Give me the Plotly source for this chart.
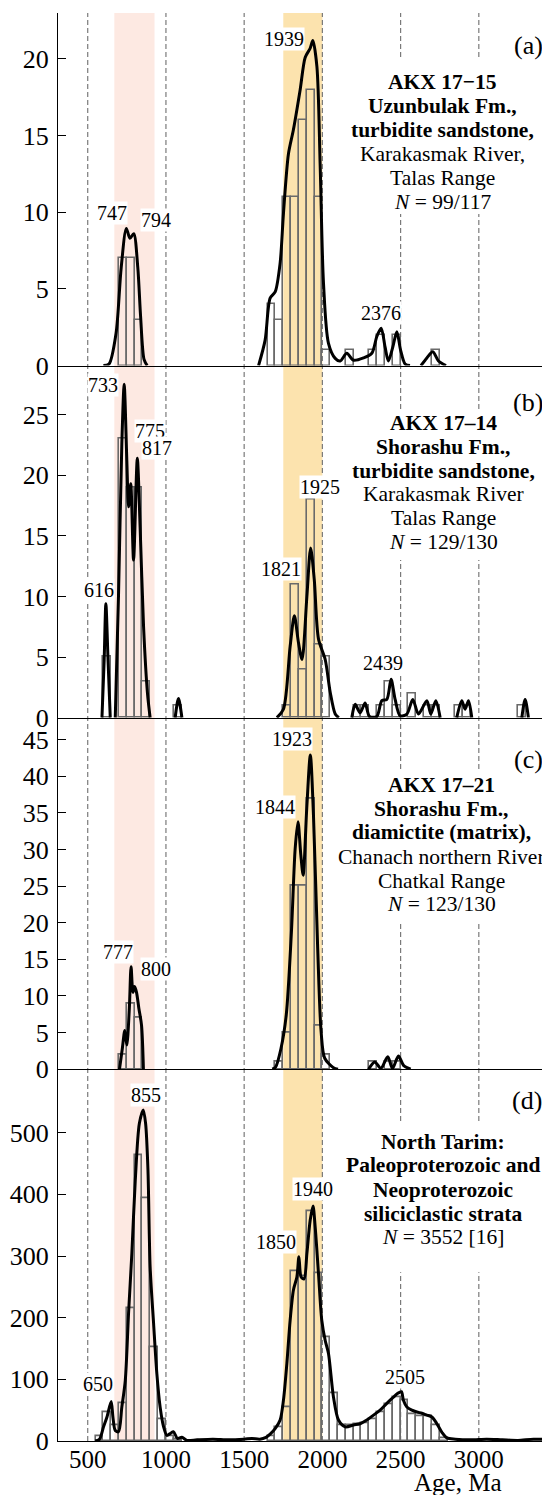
import plotly.graph_objects as go
from plotly.subplots import make_subplots

FONT = "Liberation Serif"
BIN = 50

# ---------------- DATA ----------------
# (a) AKX 17-15
a_bins = [700, 750, 800, 1650, 1700, 1750, 1800, 1850, 1900, 1950, 2000, 2150, 2300, 2350, 2450, 2700]
a_counts = [7, 7, 3, 4, 3, 11, 11, 16, 18, 11, 1, 1, 1, 2, 2, 1]
a_age = [600, 636, 681, 714, 747, 770, 794, 820, 838, 860, 880, None,
         1592, 1634, 1666, 1698, 1730, 1751, 1783, 1815, 1858, 1890, 1922, 1939, 1965, 1986, 2007, 2039,
         2082, 2114, 2156, 2199, 2263, 2316, 2348, 2376, 2401, 2422, 2450, 2476, 2501, 2529, 2560, None,
         2630, 2668, 2706, 2742, 2790]
a_pdf = [0, 0.1, 2.1, 6.4, 8.95, 8.3, 8.6, 6.4, 3.2, 0.4, 0, None,
         0, 1.66, 4.4, 4.8, 6.7, 9.9, 13.8, 15.4, 18.0, 20.1, 20.7, 21.2, 19.5, 13.0, 5.4, 1.45,
         0.47, 0.3, 0.8, 0.35, 0.5, 0.8, 1.9, 2.43, 1.2, 0.3, 1.2, 2.2, 0.96, 0.1, 0, None,
         0, 0.5, 0.9, 0.3, 0]
a_peaks = ["747", "794", "1939", "2376"]

# (b) AKX 17-14
b_bins = [600, 700, 750, 800, 850, 1050, 1750, 1800, 1850, 1900, 1950, 2000,
          2200, 2250, 2350, 2400, 2450, 2550, 2650, 2700, 2850, 2900, 3250]
b_counts = [5, 23, 19, 19, 3, 1, 1, 11, 4, 18, 6, 5,
            1, 1, 1, 3, 1, 2, 1, 1, 1, 1, 1]
b_age = [591, 605, 616, 630, 644, None,
         676, 697, 718, 733, 750, 761, 775, 793, 817, 835, 857, 882, 899, None,
         1059, 1080, 1102, None,
         1709, 1751, 1794, 1821, 1847, 1870, 1901, 1925, 1948, 1975, 2018, 2050, 2082, 2105, None,
         2188, 2210, 2241, 2273, 2301, 2348, 2380, 2412, 2439, 2465, 2497, 2540, 2578, 2614, 2668,
         2693, 2725, 2753, None,
         2859, 2891, 2912, 2934, 2955, None,
         3275, 3296, 3317]
b_pdf = [0, 4.7, 9.4, 4.7, 0, None,
         0, 10.2, 22.6, 27.5, 21.2, 17.4, 19.3, 13.0, 21.4, 15.7, 7.5, 2.0, 0, None,
         0, 1.57, 0, None,
         0, 0.7, 5.9, 8.4, 6.2, 4.8, 10.0, 14.0, 11.4, 6.5, 4.8, 2.1, 0.3, 0, None,
         0, 1.1, 0.4, 1.2, 0.1, 0.1, 1.4, 1.5, 3.16, 1.5, 0.15, 0.3, 1.5, 0.3, 1.4,
         0.3, 1.4, 0, None,
         0, 1.4, 0.7, 1.4, 0, None,
         0, 1.5, 0]
b_peaks = ["616", "733", "775", "817", "1821", "1925", "2439"]

# (c) AKX 17-21
c_bins = [700, 750, 800, 1700, 1750, 1800, 1850, 1900, 1950, 2000, 2300, 2400, 2450]
c_counts = [2, 9, 7, 1, 5, 25, 25, 37, 6, 2, 1, 1, 1]
c_age = [703, 721, 737, 750, 766, 777, 789, 800, 812, 827, 844, 856, None,
         1680, 1701, 1735, 1769, 1802, 1826, 1844, 1862, 1877, 1900, 1923, 1943, 1970, 1992, 2015, 2071, 2100, None,
         2295, 2335, 2374, 2418, 2448, 2486, 2520, 2564]
c_pdf = [0, 2.8, 5.3, 3.3, 8.3, 14.0, 10.5, 11.3, 10.5, 8.3, 6.0, 0, None,
         0, 0.3, 2.8, 7.4, 18.7, 30.1, 33.8, 29.3, 26.5, 35.6, 42.9, 34.7, 16.5, 5.1, 1.5, 0.2, 0, None,
         0, 1.0, 0.1, 1.7, 0.1, 1.8, 0.5, 0]
c_peaks = ["777", "800", "1844", "1923"]

# (d) North Tarim
d_bins = [550, 600, 650, 700, 750, 800, 850, 900, 950, 1000, 1050, 1650, 1700, 1750, 1800, 1850, 1900,
          1950, 2000, 2050, 2100, 2150, 2200, 2250, 2300, 2350, 2400, 2450, 2500, 2550, 2600, 2650,
          2700, 2750]
d_counts = [8, 47, 25, 61, 216, 464, 393, 152, 35, 8, 3, 8, 23, 55, 275, 268, 373,
            272, 169, 77, 25, 25, 27, 29, 35, 47, 60, 71, 66, 44, 41, 41,
            25, 5]
d_age = [548, 575, 601, 623, 650, 661, 676, 697, 718, 740, 761, 782, 804, 830, 855, 870, 885, 899,
         921, 942, 963, 985, 1006, 1027, 1048, 1074, 1102, 1134, 1200, 1300, 1400, 1500, 1550, 1600,
         1640, 1666, 1698, 1730, 1751, 1773, 1794, 1815, 1837, 1850, 1864, 1883, 1901, 1922, 1940,
         1954, 1975, 1996, 2018, 2039, 2071, 2103, 2146, 2199, 2241, 2284, 2327, 2369, 2412, 2454,
         2480, 2505, 2518, 2540, 2572, 2604, 2636, 2668, 2700, 2732, 2764, 2796, 2850, 2950, 3050,
         3150, 3250, 3350, 3455]
d_pdf = [0, 3, 23, 39, 64, 39, 17, 15, 55, 98, 207, 304, 423, 515, 537, 515, 440, 282,
         191, 109, 55, 23, 9, 12, 15, 4, 6, 1, 2, 3, 2, 3, 4, 3,
         6, 11, 20, 34, 66, 126, 196, 245, 266, 299, 266, 263, 304, 358, 381,
         347, 272, 196, 163, 142, 71, 34, 23, 26, 28, 34, 42, 50, 61, 71,
         77, 80, 66, 55, 50, 47, 45, 42, 39, 28, 14, 5, 3, 2, 3,
         2, 1, 3, 2]
d_peaks = ["650", "855", "1850", "1940", "2505"]

x_ticks = [500, 1000, 1500, 2000, 2500, 3000]
dashed_ages = [500, 1000, 1500, 2000, 2500, 3000]
band_pink = (670, 927)
band_yellow = (1750, 2000)

texts = {
    1: ["<b>AKX 17\u221215</b>", "<b>Uzunbulak Fm.,</b>", "<b>turbidite sandstone,</b>",
        "Karakasmak River,", "Talas Range", "<i>N</i> = 99/117"],
    2: ["<b>AKX 17\u201314</b>", "<b>Shorashu Fm.,</b>", "<b>turbidite sandstone,</b>",
        "Karakasmak River", "Talas Range", "<i>N</i> = 129/130"],
    3: ["<b>AKX 17\u201321</b>", "<b>Shorashu Fm.,</b>", "<b>diamictite (matrix),</b>",
        "Chanach northern River", "Chatkal Range", "<i>N</i> = 123/130"],
    4: ["<b>North Tarim:</b>", "<b>Paleoproterozoic and</b>", "<b>Neoproterozoic</b>",
        "<b>siliciclastic strata</b>", "<i>N</i> = 3552 [16]"],
}
panel_letters = ["(a)", "(b)", "(c)", "(d)"]

# ---------------- LAYOUT GEOMETRY ----------------
# the page body adds an 8 px offset; reference pixel coords are converted below
OFF = 8
W, H = 550 - OFF, 1495 - OFF
ML, MR, MT, MB = 58 - OFF, 0, 13 - OFF, 1495 - 1440.7
PH = H - MT - MB
PW = W - ML - MR


def px2x(px):
    return (px - OFF - ML) / PW


def px2y(py):
    return (H - MB - (py - OFF)) / PH


row_px = [352.5, 352.0, 351.5, 371.7]
yranges = [[0, 23.0], [0, 29.05], [0, 48.0], [0, 603]]
ytick_vals = [[0, 5, 10, 15, 20], [0, 5, 10, 15, 20, 25], list(range(0, 50, 5)),
              [0, 100, 200, 300, 400, 500]]

fig = make_subplots(rows=4, cols=1, shared_xaxes=True, vertical_spacing=0,
                    row_heights=row_px)

panels = [(a_bins, a_counts, a_age, a_pdf), (b_bins, b_counts, b_age, b_pdf),
          (c_bins, c_counts, c_age, c_pdf), (d_bins, d_counts, d_age, d_pdf)]

for i, (bins, counts, age, pdf) in enumerate(panels, start=1):
    fig.add_trace(go.Bar(x=[b + BIN / 2 for b in bins], y=counts, width=BIN,
                         marker=dict(color="rgba(0,0,0,0)",
                                     line=dict(color="#6a6a6a", width=1.6)),
                         showlegend=False, hoverinfo="skip"), row=i, col=1)
    fig.add_trace(go.Scatter(x=age, y=pdf, mode="lines",
                             line=dict(color="black", width=3, shape="spline", smoothing=0.8),
                             connectgaps=False, showlegend=False, hoverinfo="skip"),
                  row=i, col=1)

# bands and dashed lines
shapes = []
for (x0, x1), col in [(band_pink, "rgba(252,225,216,0.75)"), (band_yellow, "rgba(251,222,160,0.85)")]:
    shapes.append(dict(type="rect", xref="x4", yref="paper", x0=x0, x1=x1, y0=0, y1=1,
                       fillcolor=col, line=dict(width=0), layer="below"))
for a in dashed_ages:
    shapes.append(dict(type="line", xref="x4", yref="paper", x0=a, x1=a, y0=0, y1=1,
                       line=dict(color="#7a7a7a", width=1.2, dash="5px,3px"), layer="below"))
# white boxes behind the sample descriptions
box_px = [(58, 214), (410, 560), (770, 922), (1122, 1272)]
for y0, y1 in box_px:
    shapes.append(dict(type="rect", xref="paper", yref="paper", x0=px2x(350), x1=px2x(536),
                       y0=px2y(y1), y1=px2y(y0), fillcolor="white", line=dict(width=0),
                       layer="below"))

annotations = []
# description lines
text_center_x = [442, 443, 441, 443]
text_line_y = [[81.7, 106, 130, 154, 177.7, 201.7],
               [423.3, 446.7, 470.7, 494.3, 517.7, 542.3],
               [785, 809.3, 832.3, 856.7, 880.7, 904],
               [1141.7, 1165, 1190, 1213.3, 1236.7]]
for i in range(1, 5):
    for t, yy in zip(texts[i], text_line_y[i - 1]):
        annotations.append(dict(text=t, xref="paper", yref="paper", x=px2x(text_center_x[i - 1]),
                                y=px2y(yy), xanchor="center", yanchor="middle", showarrow=False,
                                font=dict(family=FONT, size=21.5, color="black")))
# panel letters
letter_pos = [(528, 45), (528, 402), (528, 759), (527, 1100)]
for t, (xx, yy) in zip(panel_letters, letter_pos):
    annotations.append(dict(text=t, xref="paper", yref="paper", x=px2x(xx), y=px2y(yy),
                            xanchor="center", yanchor="middle", showarrow=False,
                            font=dict(family=FONT, size=26, color="black")))
# peak labels (pixel positions)
peak_pos = [
    [(112.3, 213.3), (155.6, 220), (284, 39), (380.7, 313.3)],
    [(99.3, 590), (103.3, 385), (150, 431), (156.7, 448.3), (280.7, 569.3), (320, 486.7), (382.7, 662.7)],
    [(118, 952.3), (155.8, 968.3), (275.4, 806.7), (292, 739)],
    [(98.3, 1383.3), (146, 1095), (276, 1241.7), (313.3, 1188.3), (405, 1376.7)],
]
for labels, poss in zip([a_peaks, b_peaks, c_peaks, d_peaks], peak_pos):
    for t, (xx, yy) in zip(labels, poss):
        annotations.append(dict(text=t, xref="paper", yref="paper", x=px2x(xx), y=px2y(yy),
                                xanchor="center", yanchor="middle", showarrow=False,
                                bgcolor="white", borderpad=0,
                                font=dict(family=FONT, size=20, color="black")))
annotations.append(dict(text="Age, Ma", xref="paper", yref="paper", x=px2x(457.7), y=px2y(1482),
                        xanchor="center", yanchor="middle", showarrow=False,
                        font=dict(family=FONT, size=25, color="black")))

fig.update_layout(width=W, height=H, margin=dict(l=ML, r=MR, t=MT, b=MB),
                  paper_bgcolor="white", plot_bgcolor="rgba(0,0,0,0)",
                  barmode="overlay", bargap=0,
                  shapes=shapes, annotations=annotations,
                  font=dict(family=FONT, size=25, color="black"))

for i in range(1, 5):
    fig.update_xaxes(row=i, col=1, range=[310, 3455], showline=True, linecolor="black",
                     linewidth=1.3, showgrid=False, zeroline=False, ticks="",
                     tickvals=x_ticks, showticklabels=(i == 4), ticklabelstandoff=-4,
                     tickfont=dict(family=FONT, size=25, color="black"))
    fig.update_yaxes(row=i, col=1, range=yranges[i - 1], showline=True, linecolor="black",
                     linewidth=1.3, showgrid=False, zeroline=False, ticks="inside", ticklen=8,
                     tickwidth=1, tickcolor="black", tickvals=ytick_vals[i - 1],
                     ticklabelstandoff=3,
                     tickfont=dict(family=FONT, size=26, color="black"))

fig.write_html("out.html")
